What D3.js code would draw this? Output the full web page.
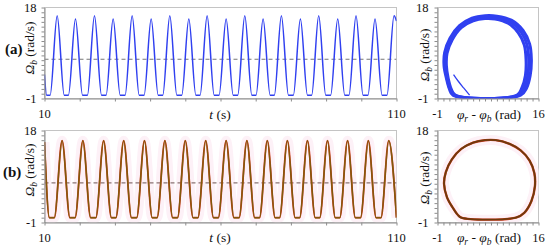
<!DOCTYPE html>
<html><head><meta charset="utf-8">
<script src="https://cdn.jsdelivr.net/npm/d3@7/dist/d3.min.js"></script>
<style>
body{margin:0;background:#fff}
svg{display:block}
svg text{font-family:'Liberation Serif','Times New Roman',Times,serif;fill:#111}
</style>
</head><body>
<svg id="c" width="550" height="249" font-family="Liberation Serif, Times New Roman, serif"></svg>
<script>
// ---------------- data ----------------
const timeDomain = [10, 110];
const omegaDomain = [-1, 18];
const phaseDomain = [-1, 16];
const timeTickLabels = [10, 110];
const omegaTickLabels = [-1, 18];
const phaseTickLabels = [-1, 16];
const meanSpeed = 7.2;   // dashed reference level (rad/s)

// (a) time series: key points (t in s, Omega_b in rad/s)
const aTime = [
  10.0, 10.6,
  11.6, 13.6, 15.6,
  16.8, 18.8, 20.8,
  22.2, 24.2, 26.2,
  27.5, 29.5, 31.5,
  32.9, 34.9, 36.9,
  38.3, 40.3, 42.3,
  43.6, 45.6, 47.6,
  49.0, 51.0, 53.0,
  54.2, 56.2, 58.2,
  59.6, 61.6, 63.6,
  64.9, 66.9, 68.9,
  70.1, 72.1, 74.1,
  75.3, 77.3, 79.3,
  80.7, 82.7, 84.7,
  85.9, 87.9, 89.9,
  91.3, 93.3, 95.3,
  96.5, 98.5, 100.5,
  101.9, 103.9, 105.9,
  107.3, 109.3, 110.0
];
const aOmega = [
  4.0, -0.3,
  -0.3, 16.3, -0.3,
  -0.3, 15.6, -0.3,
  -0.3, 16.3, -0.3,
  -0.3, 15.6, -0.3,
  -0.3, 16.3, -0.3,
  -0.3, 15.6, -0.3,
  -0.3, 16.3, -0.3,
  -0.3, 15.6, -0.3,
  -0.3, 16.3, -0.3,
  -0.3, 15.6, -0.3,
  -0.3, 16.3, -0.3,
  -0.3, 15.6, -0.3,
  -0.3, 16.3, -0.3,
  -0.3, 15.6, -0.3,
  -0.3, 16.3, -0.3,
  -0.3, 15.6, -0.3,
  -0.3, 16.3, -0.3,
  -0.3, 15.6, -0.3,
  -0.3, 16.3, 15.2
];

// (b) time series
const bTime = [
  10.0, 11.4,
  12.8, 15.0, 17.2,
  18.7, 20.9, 23.1,
  24.6, 26.8, 29.0,
  30.3, 32.5, 34.7,
  36.2, 38.4, 40.6,
  42.0, 44.2, 46.4,
  47.8, 50.0, 52.2,
  53.6, 55.8, 58.0,
  59.4, 61.6, 63.8,
  65.3, 67.5, 69.7,
  71.1, 73.3, 75.5,
  76.8, 79.0, 81.2,
  82.5, 84.7, 86.9,
  88.2, 90.4, 92.6,
  93.9, 96.1, 98.3,
  99.8, 102.0, 104.2,
  105.6, 107.8, 110.0
];
const bOmega = [
  15.6, 0.0,
  0.0, 15.9, 0.0,
  0.0, 15.9, 0.0,
  0.0, 15.9, 0.0,
  0.0, 15.9, 0.0,
  0.0, 15.9, 0.0,
  0.0, 15.9, 0.0,
  0.0, 15.9, 0.0,
  0.0, 15.9, 0.0,
  0.0, 15.9, 0.0,
  0.0, 15.9, 0.0,
  0.0, 15.9, 0.0,
  0.0, 15.9, 0.0,
  0.0, 15.9, 0.0,
  0.0, 15.9, 0.0,
  0.0, 15.9, 0.0,
  0.0, 15.9, 0.0,
  0.0, 15.9, 0.0
];

// (a) phase portrait loops: [phi_r - phi_b (rad), Omega_b (rad/s)]
const loopAOuter = [[1.6,-0.3],[13.0,-0.3],[14.0,1.2],[14.6,3.8],[14.8,7.2],[14.5,10.4],[13.4,13.2],[11.5,15.3],[9.0,16.2],[7.0,16.3],[4.8,15.8],[2.7,14.2],[1.1,11.6],[0.2,8.6],[0.1,5.8],[0.5,3.2],[1.0,1.0]];
const loopAMid   = [[1.8,-0.3],[12.7,-0.3],[13.6,1.2],[14.2,3.8],[14.35,7.2],[14.05,10.3],[13.0,13.0],[11.2,15.0],[8.9,15.9],[7.0,16.0],[4.9,15.5],[2.8,14.0],[1.3,11.5],[0.4,8.5],[0.3,5.8],[0.6,3.2],[1.1,1.0]];
const loopAInner = [[2.0,-0.3],[12.4,-0.3],[13.2,1.2],[13.8,3.8],[13.9,7.2],[13.6,10.2],[12.6,12.7],[10.9,14.7],[8.7,15.6],[7.0,15.7],[5.0,15.2],[3.0,13.8],[1.5,11.3],[0.6,8.4],[0.5,5.8],[0.8,3.2],[1.3,1.0]];
const transientA = [[1.7,4.0],[2.5,2.6],[3.4,1.2],[4.4,-0.3]];

// (b) phase portrait loop
const loopB = [[3.0,0.0],[12.2,0.0],[13.6,1.0],[14.8,3.4],[15.4,6.5],[15.3,9.2],[14.5,11.8],[13.0,13.9],[11.0,15.3],[8.8,16.0],[7.0,16.0],[5.0,15.5],[3.0,14.2],[1.4,12.0],[0.4,9.4],[0.1,7.0],[0.6,4.2],[1.6,2.0],[2.4,0.6]];

// ---------------- drawing ----------------
const svg = d3.select("#c");
const xT = d3.scaleLinear().domain(timeDomain).range([44.5, 396.5]);
const xP = d3.scaleLinear().domain(phaseDomain).range([437.5, 538.5]);
const yA = d3.scaleLinear().domain(omegaDomain).range([98.5, 7.5]);
const yB = d3.scaleLinear().domain(omegaDomain).range([222.5, 130.5]);

const AXIS = "#8c8c8c", FRAME = "#c4c4c4";
const BLUE = "#3040f0", RED = "#d03a1e", OLIVE = "#805a0c", DASH = "#777", HALO = "#fdf1f7";

let clipId = 0;
function panel(x, y) {
  const [x0, x1] = x.range(), [y0, y1] = y.range();
  svg.append("rect").attr("x", x0).attr("y", y1).attr("width", x1 - x0).attr("height", y0 - y1)
    .attr("fill", "none").attr("stroke", FRAME).attr("stroke-width", 1);
  const id = "clip" + (clipId++);
  svg.append("clipPath").attr("id", id).append("rect")
    .attr("x", x0).attr("y", y1 - 2).attr("width", x1 - x0).attr("height", y0 - y1 + 2);
  return svg.append("g").attr("clip-path", `url(#${id})`);
}

function axes(x, y, xMinor, xLabels, yLabelGap) {
  const [x0, x1] = x.range(), [y0, y1] = y.range();
  const gx = svg.append("g").attr("transform", `translate(0,${y0})`)
    .call(d3.axisBottom(x).tickValues(xMinor).tickSize(3).tickSizeOuter(0).tickFormat(() => ""));
  const gy = svg.append("g").attr("transform", `translate(${x0},0)`)
    .call(d3.axisLeft(y).tickValues(d3.range(omegaDomain[0], omegaDomain[1] + 1)).tickSize(3).tickSizeOuter(0).tickFormat(() => ""));
  [gx, gy].forEach(g => { g.selectAll("path,line").attr("stroke", AXIS); });
  xLabels.forEach(v => svg.append("text").attr("x", x(v)).attr("y", y0 + 19)
    .attr("text-anchor", "middle").attr("font-size", 12.5).text(String(v)));
  omegaTickLabels.forEach(v => svg.append("text").attr("x", x0 - yLabelGap).attr("y", y(v) + 4.5)
    .attr("text-anchor", "end").attr("font-size", 12.5).text(String(v)));
}

function omegaLabel(cx, cy) {
  const t = svg.append("text").attr("transform", `translate(${cx},${cy}) rotate(-90)`)
    .attr("text-anchor", "middle").attr("font-size", 13.5);
  t.append("tspan").attr("font-style", "italic").text("Ω");
  t.append("tspan").attr("font-style", "italic").attr("font-size", 9.5).attr("dy", 3).text("b");
  t.append("tspan").attr("dy", -3).text(" (rad/s)");
}
function timeLabel(cx, by) {
  const t = svg.append("text").attr("x", cx).attr("y", by).attr("text-anchor", "middle").attr("font-size", 13.5);
  t.append("tspan").attr("font-style", "italic").text("t");
  t.append("tspan").text(" (s)");
}
function phaseLabel(cx, by) {
  const t = svg.append("text").attr("x", cx).attr("y", by).attr("text-anchor", "middle").attr("font-size", 13.5);
  t.append("tspan").attr("font-style", "italic").text("φ");
  t.append("tspan").attr("font-style", "italic").attr("font-size", 9.5).attr("dy", 3).text("r");
  t.append("tspan").attr("dy", -3).text(" - ");
  t.append("tspan").attr("font-style", "italic").text("φ");
  t.append("tspan").attr("font-style", "italic").attr("font-size", 9.5).attr("dy", 3).text("b");
  t.append("tspan").attr("dy", -3).text(" (rad)");
}

const timeMinor = d3.range(timeDomain[0], timeDomain[1] + 1, 10);
const phaseMinor = d3.range(phaseDomain[0], phaseDomain[1] + 1, 1);

function timeLine(y) { return d3.line().x(d => xT(d[0])).y(d => y(d[1])).curve(d3.curveMonotoneX); }
function loopLine(y) { return d3.line().x(d => xP(d[0])).y(d => y(d[1])).curve(d3.curveCatmullRomClosed.alpha(0.5)); }
function openLine(y) { return d3.line().x(d => xP(d[0])).y(d => y(d[1])).curve(d3.curveCatmullRom.alpha(0.5)); }

// ---- (a) time ----
{
  const g = panel(xT, yA);
  g.append("line").attr("x1", xT(timeDomain[0])).attr("x2", xT(timeDomain[1]))
    .attr("y1", yA(meanSpeed)).attr("y2", yA(meanSpeed))
    .attr("stroke", DASH).attr("stroke-width", 1.2).attr("stroke-dasharray", "4,3");
  const pts = aTime.map((t, i) => [t, aOmega[i]]);
  g.append("path").attr("d", timeLine(yA)(pts)).attr("fill", "none").attr("stroke", BLUE).attr("stroke-width", 1.5);
  axes(xT, yA, timeMinor, timeTickLabels, 8);
  omegaLabel(34, 48);
  timeLabel(220, 119);
}
// ---- (a) phase ----
{
  const g = panel(xP, yA);
  [loopAOuter, loopAMid, loopAInner].forEach(L =>
    g.append("path").attr("d", loopLine(yA)(L)).attr("fill", "none").attr("stroke", BLUE).attr("stroke-width", 3));
  g.append("path").attr("d", openLine(yA)(transientA)).attr("fill", "none").attr("stroke", BLUE).attr("stroke-width", 1.3);
  axes(xP, yA, phaseMinor, phaseTickLabels, 9);
  omegaLabel(429, 55);
  phaseLabel(489, 119);
}
// ---- (b) time ----
{
  const g = panel(xT, yB);
  const pts = bTime.map((t, i) => [t, bOmega[i]]);
  const d = timeLine(yB)(pts);
  g.append("path").attr("d", d).attr("fill", "none").attr("stroke", HALO).attr("stroke-width", 10);
  g.append("line").attr("x1", xT(timeDomain[0])).attr("x2", xT(timeDomain[1]))
    .attr("y1", yB(meanSpeed)).attr("y2", yB(meanSpeed))
    .attr("stroke", "#8a7474").attr("stroke-width", 1.2).attr("stroke-dasharray", "4,3");
  g.append("path").attr("d", d).attr("fill", "none").attr("stroke", RED).attr("stroke-width", 1.8);
  g.append("path").attr("d", d).attr("fill", "none").attr("stroke", OLIVE).attr("stroke-width", 1.5);
  axes(xT, yB, timeMinor, timeTickLabels, 8);
  omegaLabel(34, 170);
  timeLabel(220, 242);
}
// ---- (b) phase ----
{
  const g = panel(xP, yB);
  const d = loopLine(yB)(loopB);
  g.append("path").attr("d", d).attr("fill", "none").attr("stroke", HALO).attr("stroke-width", 10);
  g.append("path").attr("d", d).attr("fill", "none").attr("stroke", RED).attr("stroke-width", 2.4);
  g.append("path").attr("d", d).attr("fill", "none").attr("stroke", "#6e3a0c").attr("stroke-width", 1.8);
  axes(xP, yB, phaseMinor, phaseTickLabels, 9);
  omegaLabel(429, 178);
  phaseLabel(489, 242);
}

// panel letters
svg.append("text").attr("x", 5).attr("y", 54).attr("font-size", 15).attr("font-weight", "bold").text("(a)");
svg.append("text").attr("x", 3).attr("y", 177).attr("font-size", 15).attr("font-weight", "bold").text("(b)");
</script>
</body></html>
